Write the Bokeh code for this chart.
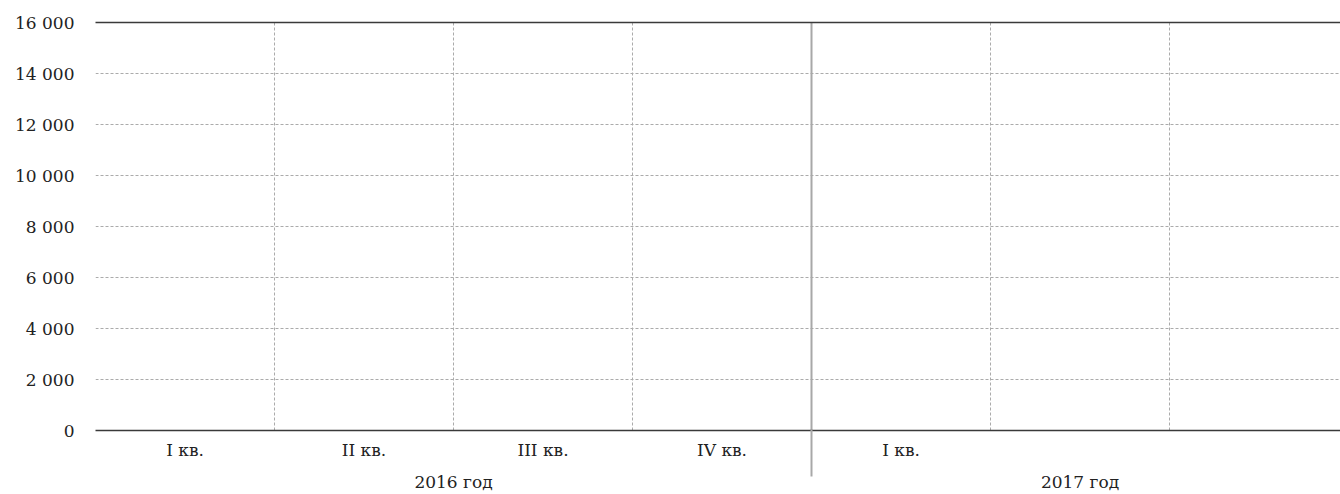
from bokeh.plotting import figure
from bokeh.models import FixedTicker, LinearAxis, Grid, Range1d
from bokeh.embed import file_html
from bokeh.resources import INLINE

# ---- data ----
years = ["2016 год", "2017 год"]
year_quarter_counts = [4, 3]
quarter_labels = ["I кв.", "II кв.", "III кв.", "IV кв.", "I кв.", "", ""]
y_ticks = [0, 2000, 4000, 6000, 8000, 10000, 12000, 14000, 16000]

# ---- derived positions (one unit per quarter column) ----
n_cols = sum(year_quarter_counts)
q_pos = [i + 0.5 for i, lab in enumerate(quarter_labels) if lab]
q_over = {i + 0.5: lab for i, lab in enumerate(quarter_labels) if lab}
year_pos, year_bounds = [], []
start = 0
for c in year_quarter_counts:
    year_pos.append(start + c / 2)
    start += c
    year_bounds.append(start)
sep_pos = year_bounds[:-1]
dash_pos = [b for b in range(1, n_cols) if b not in sep_pos]

FONT = "DejaVu Serif"
FSIZE = "17px"
TXT = "#222222"
DARK = "#3a3a3a"
SEP = "#a8a8a8"
GRID = "#ababab"

p = figure(width=1340, height=494,
           x_range=Range1d(0, 6.955), y_range=Range1d(y_ticks[0], y_ticks[-1]),
           output_backend="svg", toolbar_location=None,
           min_border_left=95, min_border_right=0,
           min_border_top=22, min_border_bottom=64)
p.outline_line_color = None
p.background_fill_color = "white"
p.border_fill_color = "white"

# y axis
ya = p.yaxis[0]
ya.ticker = FixedTicker(ticks=y_ticks)
ya.major_label_overrides = {v: f"{v:,}".replace(",", " ") for v in y_ticks}
ya.axis_line_color = None
ya.major_tick_line_color = None
ya.minor_tick_line_color = None
ya.major_tick_in = 0
ya.major_tick_out = 0
ya.major_label_standoff = 21
ya.major_label_text_font = FONT
ya.major_label_text_font_size = FSIZE
ya.major_label_text_color = TXT

# x axis: quarters (its line is the zero line)
xa = p.xaxis[0]
xa.ticker = FixedTicker(ticks=q_pos)
xa.major_label_overrides = q_over
xa.major_tick_in = 0
xa.major_tick_out = 0
xa.major_tick_line_color = None
xa.minor_tick_line_color = None
xa.minor_tick_in = 0
xa.minor_tick_out = 0
xa.axis_line_color = DARK
xa.axis_line_width = 1.5
xa.major_label_standoff = 9
xa.major_label_text_font = FONT
xa.major_label_text_font_size = FSIZE
xa.major_label_text_color = TXT

# x axis: years (minor tick = year separator below the zero line)
ax_y = LinearAxis(ticker=FixedTicker(ticks=year_pos, minor_ticks=sep_pos),
                  major_label_overrides={pos: y for pos, y in zip(year_pos, years)})
ax_y.axis_line_color = None
ax_y.major_tick_line_color = None
ax_y.major_tick_in = 0
ax_y.major_tick_out = 0
ax_y.minor_tick_in = 33
ax_y.minor_tick_out = 14
ax_y.minor_tick_line_color = SEP
ax_y.minor_tick_line_width = 2
ax_y.major_label_standoff = -5
ax_y.major_label_text_font = FONT
ax_y.major_label_text_font_size = FSIZE
ax_y.major_label_text_color = TXT
p.add_layout(ax_y, "below")

# top line
ax_top = LinearAxis(ticker=FixedTicker(ticks=[]))
ax_top.axis_line_color = DARK
ax_top.axis_line_width = 1.5
ax_top.major_tick_line_color = None
ax_top.minor_tick_line_color = None
p.add_layout(ax_top, "above")

# grids
p.xgrid.visible = False
p.ygrid.ticker = FixedTicker(ticks=y_ticks[1:-1])
p.ygrid.grid_line_color = GRID
p.ygrid.grid_line_dash = "3 2"
p.ygrid.grid_line_width = 1

g_dash = Grid(dimension=0, ticker=FixedTicker(ticks=dash_pos),
              grid_line_color=GRID, grid_line_dash="3 2", grid_line_width=1)
g_sep = Grid(dimension=0, ticker=FixedTicker(ticks=sep_pos),
             grid_line_color=SEP, grid_line_width=2)
p.add_layout(g_dash)
p.add_layout(g_sep)

open("out.html", "w").write(file_html(p, INLINE))
